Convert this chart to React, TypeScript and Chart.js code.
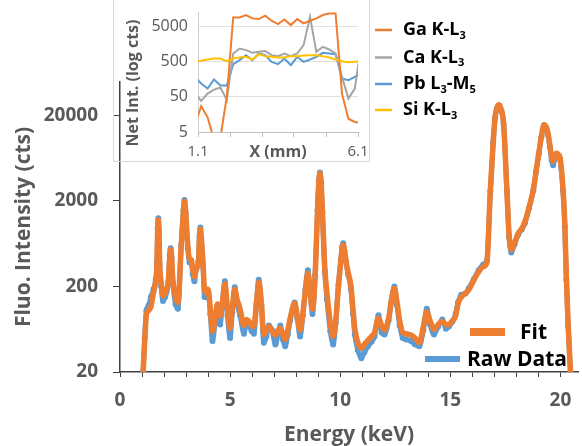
import React, { useEffect, useRef } from 'react';
import { Chart, registerables } from 'chart.js';

Chart.register(...registerables);

// ---------- Main spectrum data ----------
const energyKeV = [
  1.05, 1.12, 1.2, 1.3, 1.4, 1.52, 1.62, 1.68, 1.71, 1.74, 1.77, 1.8, 1.87, 1.95, 2.05, 2.2, 2.26, 2.3, 2.34, 2.4, 2.52, 2.63,
  2.78, 2.88, 2.93, 2.98, 3.08, 3.16, 3.23, 3.3, 3.38, 3.47, 3.56, 3.61, 3.65, 3.69, 3.77, 3.84, 3.93, 4.0, 4.1, 4.2, 4.32, 4.43,
  4.55, 4.65, 4.76, 4.88, 5.0, 5.1, 5.21, 5.32, 5.45, 5.63, 5.75, 5.86, 5.98, 6.08, 6.2, 6.3, 6.42, 6.53,
  6.65, 6.76, 6.9, 7.06, 7.18, 7.28, 7.4, 7.5, 7.62, 7.73, 7.93, 8.05, 8.18, 8.3, 8.42, 8.53, 8.64, 8.74,
  8.86, 8.97, 9.03, 9.08, 9.13, 9.19, 9.3, 9.4, 9.55, 9.68, 9.8, 9.92, 10.03, 10.09, 10.14, 10.19, 10.25, 10.36, 10.48, 10.58, 10.66,
  10.8, 10.96, 11.1, 11.26, 11.42, 11.56, 11.74, 11.88, 12.01, 12.2, 12.33, 12.46, 12.58, 12.7, 12.84, 13.0,
  13.21, 13.4, 13.59, 13.78, 13.93, 14.08, 14.26, 14.45, 14.64, 14.8, 14.94, 15.1, 15.24, 15.35, 15.5,
  15.69, 15.84, 16.07, 16.29, 16.5, 16.66, 16.82, 16.95, 17.04, 17.13, 17.22, 17.32, 17.42, 17.57, 17.67,
  17.77, 17.92, 18.09, 18.25, 18.39, 18.58, 18.77, 18.9, 19.02, 19.14, 19.26, 19.36, 19.44, 19.52, 19.6,
  19.67, 19.75, 19.82, 19.9, 19.97, 20.12, 20.2, 20.27, 20.35, 20.46,
];
const fitCounts = [
  20, 45, 95, 105, 115, 170, 230, 375, 900, 1200, 900, 375, 220, 155, 170, 237, 450, 540, 450, 237, 150, 130,
  590, 1500, 1980, 1500, 590, 420, 410, 330, 260, 330, 375, 750, 940, 750, 375, 180, 170, 185, 110, 60, 85, 125,
  90, 130, 215, 110, 65, 110, 185, 140, 110, 70, 82, 78, 70, 68, 130, 225, 130, 55,
  62, 68, 60, 54, 62, 65, 55, 48, 62, 85, 127, 90, 62, 95, 180, 285, 170, 108,
  260, 1500, 3300, 4200, 3300, 1570, 330, 165, 75, 52, 80, 200, 400, 560, 610, 540, 420, 290, 210, 110, 65,
  44, 38, 42, 47, 52, 58, 85, 70, 62, 85, 140, 190, 130, 80, 58, 56,
  54, 50, 44, 68, 101, 80, 63, 72, 78, 72, 72, 80, 90, 125, 150,
  167, 183, 237, 297, 340, 380, 2700, 10000, 19400, 25000, 26500, 23000, 16200, 2700, 800,
  535, 650, 840, 950, 1140, 1700, 2700, 4500, 7200, 11500, 15500, 14500, 12300, 9000, 6600,
  5800, 6600, 7200, 7000, 6600, 2700, 1100, 260, 74, 20,
];
const rawCounts = [
  20, 50, 105, 120, 150, 185, 240, 380, 950, 1250, 880, 360, 200, 135, 150, 230, 470, 560, 440, 220, 125, 110,
  600, 1550, 2050, 1450, 560, 380, 400, 280, 230, 320, 390, 780, 980, 720, 350, 150, 150, 175, 95, 46, 75, 120,
  72, 125, 230, 92, 50, 100, 195, 125, 92, 56, 75, 70, 60, 56, 125, 240, 120, 44,
  52, 70, 62, 42, 55, 70, 48, 40, 55, 80, 130, 85, 52, 90, 185, 310, 160, 95,
  270, 1550, 3400, 4300, 3250, 1500, 300, 140, 60, 42, 75, 210, 410, 580, 640, 520, 400, 275, 190, 95, 55,
  36, 29, 34, 40, 45, 52, 92, 58, 55, 80, 135, 200, 120, 70, 50, 48,
  46, 42, 40, 62, 110, 72, 55, 68, 82, 64, 68, 78, 95, 130, 160,
  165, 190, 245, 310, 360, 400, 2600, 9800, 19000, 24500, 26000, 22500, 15800, 2600, 760,
  500, 620, 810, 930, 1100, 1650, 2650, 4400, 7100, 11200, 15300, 14000, 11800, 8500, 6000,
  5200, 6200, 7000, 6800, 6300, 2600, 1000, 240, 70, 20,
];
const mainXTickValues = [0, 1, 2, 3, 4, 5, 6, 7, 8, 9, 10, 11, 12, 13, 14, 15, 16, 17, 18, 19, 20];
const mainXLabelValues = [0, 5, 10, 15, 20];
const mainYTickValues = [20, 200, 2000, 20000];

// ---------- Inset data ----------
const insetXmm = [1.0, 1.2, 1.4, 1.6, 1.8, 2.0, 2.2, 2.4, 2.6, 2.8, 3.0, 3.2, 3.4, 3.6, 3.8, 4.0, 4.2, 4.4, 4.6, 4.8, 5.0, 5.2, 5.4, 5.6, 5.8, 6.0, 6.2];
const gaKL3 = [8, 27, 13, 3, 3.5, 49, 8790, 8790, 10240, 8240, 7890, 9800, 7070, 5690, 7710, 5320, 7890, 5940, 7070, 8240, 10240, 11400, 11400, 61, 11.9, 9.6, 9.0];
const caKL3 = [65, 38, 61, 79, 91, 41, 836, 1159, 1040, 873, 932, 975, 750, 703, 836, 703, 836, 1441, 9180, 932, 1292, 1087, 836, 182, 44, 85, 1500];
const pbL3M5 = [180, 118, 85, 153, 103, 103, 416, 541, 750, 541, 836, 750, 485, 416, 603, 390, 672, 485, 565, 672, 873, 836, 800, 163, 146, 181, 226];
const siKL3 = [500, 520, 565, 600, 603, 507, 603, 643, 672, 565, 800, 703, 672, 643, 643, 703, 703, 733, 750, 750, 703, 643, 565, 507, 474, 485, 520];
const insetXTickValues = [1.1, 2.1, 3.1, 4.1, 5.1, 6.1];
const insetXTickLabels = ['1.1', '', '', '', '', '6.1'];
const insetYTickValues = [5, 50, 500, 5000];

// legend labels: [text, isSubscript]
const insetLegendLabels: [string, boolean][][] = [
  [['Ga K-L', false], ['3', true]],
  [['Ca K-L', false], ['3', true]],
  [['Pb L', false], ['3', true], ['-M', false], ['5', true]],
  [['Si K-L', false], ['3', true]],
];
const mainLegendLabels = ['Fit', 'Raw Data'];

const ORANGE = '#ED7D31';
const BLUE = '#5B9BD5';
const GRAY = '#A5A5A5';
const YELLOW = '#FFC000';
const TEXT = '#595959';
const FAMILY = "'Open Sans', 'Liberation Sans', sans-serif";

function drawRich(ctx: CanvasRenderingContext2D, x: number, y: number, parts: [string, boolean][], size: number) {
  let cx = x;
  for (const [t, sub] of parts) {
    const s = sub ? Math.round(size * 0.62) : size;
    ctx.font = `bold ${s}px ${FAMILY}`;
    ctx.fillText(t, cx, sub ? y + size * 0.32 : y);
    cx += ctx.measureText(t).width;
  }
}

const mainLegendPlugin = {
  id: 'mainLegend',
  afterDraw(chart: any) {
    const ctx: CanvasRenderingContext2D = chart.ctx;
    ctx.save();
    ctx.lineCap = 'butt';
    ctx.strokeStyle = ORANGE;
    ctx.lineWidth = 8;
    ctx.beginPath();
    ctx.moveTo(470, 332);
    ctx.lineTo(505, 332);
    ctx.stroke();
    ctx.strokeStyle = BLUE;
    ctx.lineWidth = 6;
    ctx.beginPath();
    ctx.moveTo(425, 359);
    ctx.lineTo(460, 359);
    ctx.stroke();
    ctx.fillStyle = '#000';
    ctx.textBaseline = 'middle';
    ctx.textAlign = 'left';
    ctx.font = `bold 21px ${FAMILY}`;
    ctx.fillText(mainLegendLabels[0], 520, 333);
    ctx.fillText(mainLegendLabels[1], 467, 360);

    const colors = [ORANGE, GRAY, BLUE, YELLOW];
    const rows = [30, 57.5, 84, 110];
    for (let i = 0; i < 4; i++) {
      ctx.strokeStyle = colors[i];
      ctx.lineWidth = 2.5;
      ctx.beginPath();
      ctx.moveTo(375, rows[i]);
      ctx.lineTo(392, rows[i]);
      ctx.stroke();
      ctx.fillStyle = '#000';
      drawRich(ctx, 403, rows[i], insetLegendLabels[i], 18);
    }
    ctx.restore();
  },
};

const insetDecorPlugin = {
  id: 'insetDecor',
  afterDraw(chart: any) {
    const ctx: CanvasRenderingContext2D = chart.ctx;
    const area = chart.chartArea;
    ctx.save();
    ctx.strokeStyle = '#d9d9d9';
    ctx.lineWidth = 1;
    ctx.strokeRect(0.5, -1, chart.width - 1, chart.height - 0.5);
    ctx.fillStyle = TEXT;
    ctx.textBaseline = 'middle';
    ctx.textAlign = 'center';
    ctx.font = `bold 16px ${FAMILY}`;
    ctx.fillText('X (mm)', (area.left + area.right) / 2, 152);
    ctx.translate(20, 83);
    ctx.rotate(-Math.PI / 2);
    ctx.fillText('Net Int. (log cts)', 0, 0);
    ctx.restore();
  },
};

export default function App() {
  const mainRef = useRef<HTMLCanvasElement>(null);
  const insetRef = useRef<HTMLCanvasElement>(null);

  useEffect(() => {
    const mainCanvas = mainRef.current!;
    const insetCanvas = insetRef.current!;

    const main = new Chart(mainCanvas, {
      type: 'line',
      data: {
        datasets: [
          {
            label: 'Fit',
            data: energyKeV.map((e, i) => ({ x: e, y: fitCounts[i] })),
            borderColor: ORANGE,
            backgroundColor: ORANGE,
            borderWidth: 5.5,
            pointRadius: 0,
            cubicInterpolationMode: 'monotone',
            order: 1,
          },
          {
            label: 'Raw Data',
            data: energyKeV.map((e, i) => ({ x: e, y: rawCounts[i] })),
            borderColor: BLUE,
            backgroundColor: BLUE,
            borderWidth: 5,
            pointRadius: 3,
            pointBorderWidth: 0,
            pointBackgroundColor: BLUE,
            cubicInterpolationMode: 'monotone',
            order: 2,
          },
        ] as any,
      },
      options: {
        responsive: false,
        animation: false,
        events: [],
        layout: { padding: { top: 82, right: 0, left: 0, bottom: 0 } },
        plugins: { legend: { display: false }, tooltip: { enabled: false } },
        scales: {
          x: {
            type: 'linear',
            min: 0,
            max: 20.8,
            afterBuildTicks: (s: any) => {
              s.ticks = mainXTickValues.map((v) => ({ value: v }));
            },
            afterFit: (s: any) => {
              s.height = 74;
              s.paddingLeft = 0;
              s.paddingRight = 0;
            },
            ticks: {
              autoSkip: false,
              maxRotation: 0,
              padding: 12,
              color: TEXT,
              font: { family: FAMILY, size: 19, weight: 'bold' },
              callback: (v: any) => (mainXLabelValues.includes(Number(v)) ? String(v) : ''),
            },
            grid: { drawOnChartArea: false, tickLength: 5, color: '#404040', lineWidth: 1 },
            border: { color: '#404040', width: 1.5 },
            title: {
              display: true,
              text: 'Energy (keV)',
              color: TEXT,
              padding: 0,
              font: { family: FAMILY, size: 21, weight: 'bold', lineHeight: 1 },
            },
          },
          y: {
            type: 'logarithmic',
            min: 20,
            max: 49000,
            afterBuildTicks: (s: any) => {
              s.ticks = mainYTickValues.map((v) => ({ value: v }));
            },
            afterFit: (s: any) => {
              s.width = 120;
              s.paddingTop = 0;
              s.paddingBottom = 0;
            },
            ticks: {
              autoSkip: false,
              padding: 15,
              color: TEXT,
              font: { family: FAMILY, size: 19, weight: 'bold' },
              callback: (v: any) => String(v),
            },
            grid: { drawOnChartArea: false, tickLength: 7, color: '#404040', lineWidth: 1 },
            border: { color: '#404040', width: 1.5 },
            title: {
              display: true,
              text: 'Fluo. Intensity (cts)',
              color: TEXT,
              padding: { top: 11, bottom: 0 },
              font: { family: FAMILY, size: 21, weight: 'bold' },
            },
          },
        },
      } as any,
      plugins: [mainLegendPlugin],
    });

    const mk = (vals: number[], color: string, label: string) => ({
      label,
      data: insetXmm.map((x, i) => ({ x, y: vals[i] })),
      borderColor: color,
      backgroundColor: color,
      borderWidth: 2,
      pointRadius: 0,
      tension: 0,
    });

    const inset = new Chart(insetCanvas, {
      type: 'line',
      data: {
        datasets: [
          mk(siKL3, YELLOW, 'Si K-L3'),
          mk(gaKL3, ORANGE, 'Ga K-L3'),
          mk(caKL3, GRAY, 'Ca K-L3'),
          mk(pbL3M5, BLUE, 'Pb L3-M5'),
        ],
      },
      options: {
        responsive: false,
        animation: false,
        events: [],
        layout: { padding: { top: 12, right: 12, left: 0, bottom: 0 } },
        plugins: { legend: { display: false }, tooltip: { enabled: false } },
        scales: {
          x: {
            type: 'linear',
            min: 1.1,
            max: 6.1,
            afterBuildTicks: (s: any) => {
              s.ticks = insetXTickValues.map((v) => ({ value: v }));
            },
            afterFit: (s: any) => {
              s.height = 31;
              s.paddingLeft = 0;
              s.paddingRight = 0;
            },
            ticks: {
              autoSkip: false,
              maxRotation: 0,
              padding: 6,
              color: TEXT,
              font: { family: FAMILY, size: 15 },
              callback: (_v: any, i: number) => insetXTickLabels[i],
            },
            grid: { drawOnChartArea: false, tickLength: 5, color: '#bfbfbf' },
            border: { color: '#bfbfbf', width: 1 },
          },
          y: {
            type: 'logarithmic',
            min: 5,
            max: 12500,
            afterBuildTicks: (s: any) => {
              s.ticks = insetYTickValues.map((v) => ({ value: v }));
            },
            afterFit: (s: any) => {
              s.width = 85;
              s.paddingTop = 0;
              s.paddingBottom = 0;
            },
            ticks: {
              autoSkip: false,
              padding: 10,
              color: TEXT,
              font: { family: FAMILY, size: 16 },
              callback: (v: any) => String(v),
            },
            grid: { drawTicks: false, color: '#e0e0e0' },
            border: { color: '#d0d0d0', width: 1 },
          },
        },
      } as any,
      plugins: [insetDecorPlugin],
    });

    return () => {
      main.destroy();
      inset.destroy();
    };
  }, []);

  return (
    <div style={{ position: 'absolute', left: 0, top: 0, width: 582, height: 446, background: '#fff' }}>
      <canvas ref={mainRef} width={582} height={446} style={{ position: 'absolute', left: 0, top: 0, width: 582, height: 446 }} />
      <canvas ref={insetRef} width={257} height={163} style={{ position: 'absolute', left: 113, top: 0, width: 257, height: 163 }} />
    </div>
  );
}
